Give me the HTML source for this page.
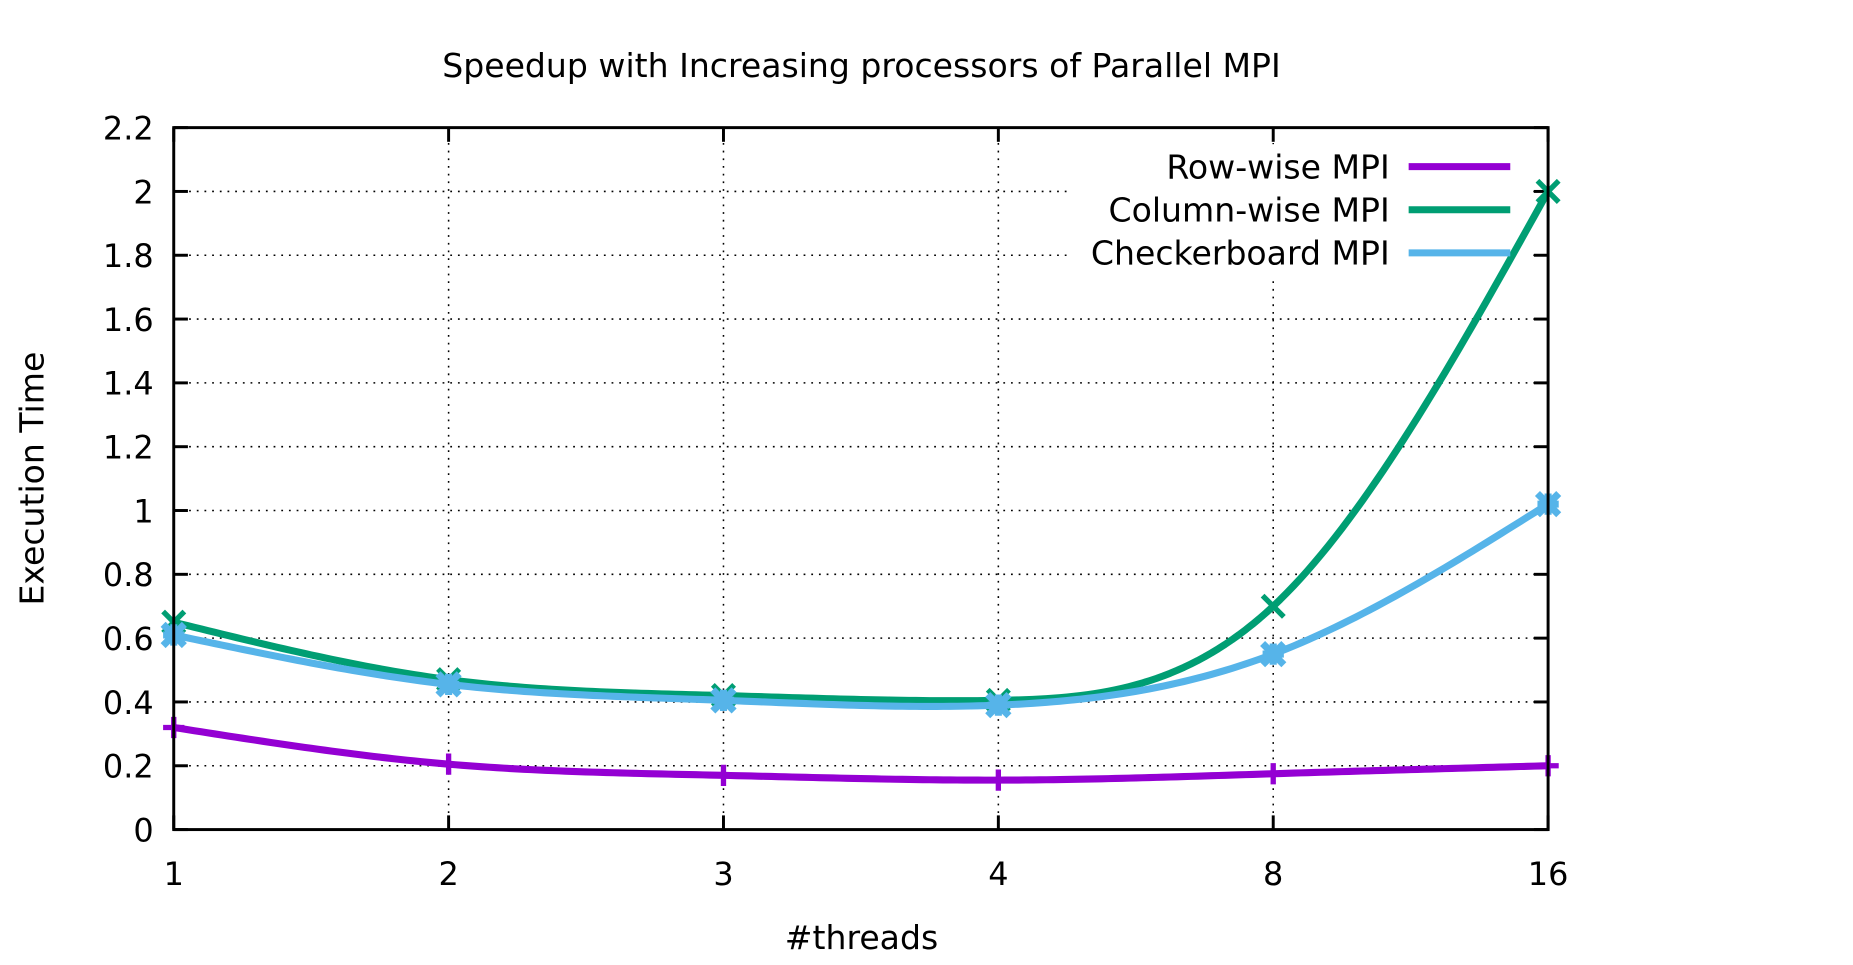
<!DOCTYPE html>
<html><head><meta charset="utf-8"><style>
html,body{margin:0;padding:0;background:#fff;}
svg{display:block;font-family:"DejaVu Sans","Liberation Sans",sans-serif;}
</style></head><body>
<svg id="chart" width="1853" height="965" viewBox="0 0 1568 816.6" xmlns="http://www.w3.org/2000/svg">
<rect width="1568" height="816.6" fill="#fff"/>
<text x="729" y="65" font-size="28" text-anchor="middle">Speedup with Increasing processors of Parallel MPI</text>
<text transform="translate(37,405) rotate(-90)" font-size="28" text-anchor="middle">Execution Time</text>
<text x="729" y="803" font-size="28" text-anchor="middle">#threads</text>
<g id="grid"></g>
<g id="ticks"></g>
<rect x="905" y="122" width="390" height="112" fill="#fff"/>
<g id="series"></g>
<rect x="147" y="108" width="1163" height="594" fill="none" stroke="#000" stroke-width="2.5"/>
<g id="legend"></g>
</svg>
<script>
const categories = ["1","2","3","4","8","16"];
const rowWise = [0.32, 0.205, 0.17, 0.155, 0.175, 0.2];
const colWise = [0.65, 0.47, 0.42, 0.405, 0.70, 2.0];
const checker = [0.61, 0.455, 0.405, 0.39, 0.55, 1.02];
const yTicks = [0,0.2,0.4,0.6,0.8,1,1.2,1.4,1.6,1.8,2,2.2];
const yTickLabels = ["0","0.2","0.4","0.6","0.8","1","1.2","1.4","1.6","1.8","2","2.2"];
const seriesNames = ["Row-wise MPI","Column-wise MPI","Checkerboard MPI"];

const NS="http://www.w3.org/2000/svg";
const L=147,R=1310,T=108,B=702,yMax=2.2;
const xs=i=>L+i*(R-L)/(categories.length-1);
const ys=v=>B-v/yMax*(B-T);
function mk(tag,attrs,parent){const e=document.createElementNS(NS,tag);for(const k in attrs)e.setAttribute(k,attrs[k]);parent.appendChild(e);return e;}
const grid=document.getElementById('grid'),ticks=document.getElementById('ticks'),ser=document.getElementById('series'),leg=document.getElementById('legend');

yTicks.forEach((v,i)=>{
  const y=ys(v);
  if(i>0&&i<yTicks.length-1){
    const g=mk('line',{x1:L,x2:R,y1:y,y2:y,stroke:'#000','stroke-width':1.3,'stroke-dasharray':'1.5,5'},grid);
    
    
  }
  const t1=mk('line',{x1:L,x2:L+12,y1:y,y2:y,stroke:'#000','stroke-width':2.5},ticks);
  
  
  const t2=mk('line',{x1:R-12,x2:R,y1:y,y2:y,stroke:'#000','stroke-width':2.5},ticks);
  
  
  const lb=mk('text',{x:L-17,y:y+10,'font-size':27,'text-anchor':'end'},ticks);
  lb.textContent=yTickLabels[i];
  
  
});
categories.forEach((c,i)=>{
  const x=xs(i);
  if(i>0&&i<categories.length-1){
    const g=mk('line',{x1:x,x2:x,y1:T,y2:B,stroke:'#000','stroke-width':1.3,'stroke-dasharray':'1.5,5'},grid);
    
    
  }
  const t1=mk('line',{x1:x,x2:x,y1:B-12,y2:B,stroke:'#000','stroke-width':2.5},ticks);
  
  
  const t2=mk('line',{x1:x,x2:x,y1:T,y2:T+12,stroke:'#000','stroke-width':2.5},ticks);
  
  
  const lb=mk('text',{x:x,y:749,'font-size':27,'text-anchor':'middle'},ticks);
  lb.textContent=c;
  
  
});

function spline(vals){
  const n=vals.length,a=vals.slice();
  const al=[0],l=[1],mu=[0],z=[0];
  for(let i=1;i<n-1;i++){al[i]=3*(a[i+1]-2*a[i]+a[i-1]);}
  for(let i=1;i<n-1;i++){l[i]=4-mu[i-1];mu[i]=1/l[i];z[i]=(al[i]-z[i-1])/l[i];}
  const c=new Array(n).fill(0);
  for(let j=n-2;j>=1;j--){c[j]=z[j]-mu[j]*c[j+1];}
  let d='';
  for(let i=0;i<n-1;i++){
    const b=(a[i+1]-a[i])-(c[i+1]+2*c[i])/3,dd=(c[i+1]-c[i])/3;
    for(let s=0;s<=40;s++){const t=s/40;const v=a[i]+b*t+c[i]*t*t+dd*t*t*t;
      d+=(d?'L':'M')+xs(i+t).toFixed(2)+','+ys(v).toFixed(2);}
  }
  return d;
}
const colors=['#9400d3','#009e73','#56b4e9'];
const data=[rowWise,colWise,checker];
const keys=['row-wise','column-wise','checkerboard'];
data.forEach((vals,si)=>{
  const p=mk('path',{d:spline(vals),fill:'none',stroke:colors[si],'stroke-width':6,'stroke-linejoin':'round'},ser);
  
  
  vals.forEach((v,i)=>{
    const x=xs(i),y=ys(v),s=9;
    let d;
    if(si===0) d=`M${x-s},${y}L${x+s},${y}M${x},${y-s}L${x},${y+s}`;
    else if(si===1) d=`M${x-s},${y-s}L${x+s},${y+s}M${x-s},${y+s}L${x+s},${y-s}`;
    else d=`M${x-s},${y-s}L${x+s},${y+s}M${x-s},${y+s}L${x+s},${y-s}M${x-s},${y}L${x+s},${y}M${x},${y-s}L${x},${y+s}`;
    const m=mk('path',{d:d,stroke:colors[si],'stroke-width':si===2?6:4.5,fill:'none'},ser);
    
    
  });
});
seriesNames.forEach((n,i)=>{
  const y=141+i*36.5;
  const t=mk('text',{x:1176,y:y+10,'font-size':28,'text-anchor':'end'},leg);
  t.textContent=n;
  
  
  const ln=mk('line',{x1:1192,x2:1278,y1:y,y2:y,stroke:colors[i],'stroke-width':6},leg);
  
  
});
</script>
</body></html>
